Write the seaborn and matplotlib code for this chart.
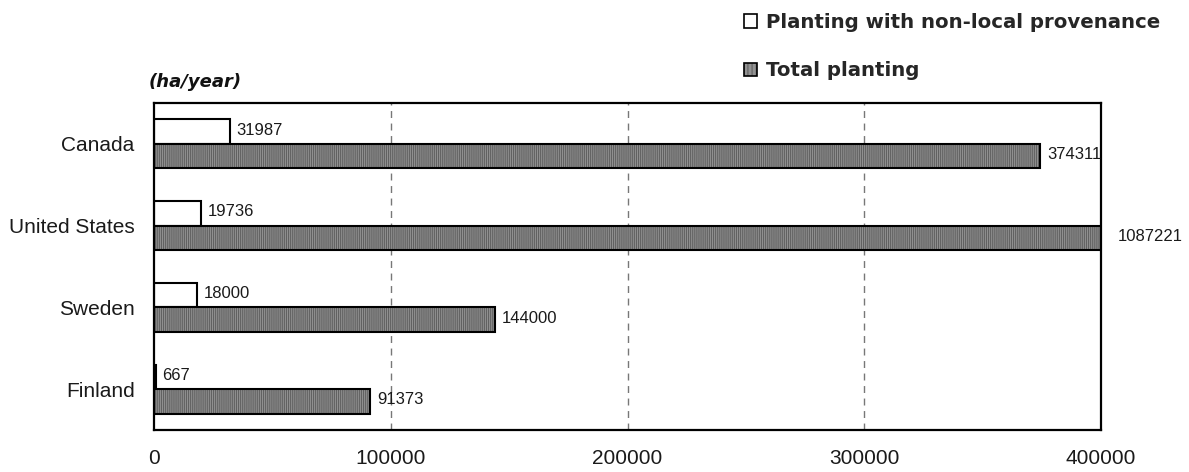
import matplotlib
matplotlib.use("Agg")
import matplotlib.pyplot as plt
import matplotlib.colors as mcolors
import seaborn as sns
import pandas as pd

# Planting area by country (ha/year)
countries = ["Canada", "United States", "Sweden", "Finland"]
non_local = [31987, 19736, 18000, 667]
total = [374311, 1087221, 144000, 91373]
series_names = ["Planting with non-local provenance", "Total planting"]
x_ticks = [0, 100000, 200000, 300000, 400000]

sns.set_theme(style="white")
plt.rcParams["font.family"] = ["Liberation Sans", "DejaVu Sans"]
plt.rcParams["hatch.linewidth"] = 0.8

df = pd.DataFrame({
    "country": countries * 2,
    "series": [series_names[0]] * len(countries) + [series_names[1]] * len(countries),
    "value": non_local + total,
})

fig = plt.figure(figsize=(11.89, 4.72), dpi=100)
ax = fig.add_axes([154 / 1189, 1 - 430 / 472, (1101 - 154) / 1189, (430 - 103) / 472])

sns.barplot(
    data=df, y="country", x="value", hue="series", orient="h",
    hue_order=series_names, order=countries,
    palette=["white", "#929292"], width=0.6, saturation=1,
    edgecolor="black", linewidth=1.5, legend=False, ax=ax,
)

# Striped grey fill for the total-planting bars, outline stays black
stripe_rgba = mcolors.to_rgba("#616161")
for patch in ax.containers[1]:
    patch.set_hatch("||||||||")
    patch._hatch_color = stripe_rgba

ax.set_xlim(x_ticks[0], x_ticks[-1])
ax.set_xticks(x_ticks)
ax.set_xticklabels([str(t) for t in x_ticks], fontsize=15, color="#1a1a1a")
ax.tick_params(axis="x", length=0, pad=14)
ax.tick_params(axis="y", length=0, pad=14, labelsize=15, labelcolor="#1a1a1a")
ax.set_xlabel("")
ax.set_ylabel("")

for t in x_ticks[1:-1]:
    ax.axvline(t, color="#777777", linestyle=(0, (5, 4)), linewidth=1, zorder=0)

for side in ["top", "bottom", "left", "right"]:
    ax.spines[side].set_visible(True)
    ax.spines[side].set_color("black")
    ax.spines[side].set_linewidth(1.6)

# Value labels at the visible end of each bar
xmax = x_ticks[-1]
for container, values in zip(ax.containers, [non_local, total]):
    for patch, v in zip(container, values):
        yc = patch.get_y() + patch.get_height() / 2
        end = min(v, xmax)
        off = 12 if v > xmax else 5
        ax.annotate(str(v), xy=(end, yc), xytext=(off, 1), textcoords="offset points",
                    ha="left", va="center", fontsize=12, color="#1a1a1a",
                    annotation_clip=False)

leg = fig.legend(
    handles=[ax.containers[0], ax.containers[1]], labels=series_names,
    loc="upper left", bbox_to_anchor=(736 / 1189, 1 - 5 / 472),
    frameon=False, ncol=1, handlelength=0.65, handleheight=0.65,
    handletextpad=0.45, labelspacing=1.5, borderaxespad=0,
    prop={"family": "DejaVu Sans", "weight": "bold", "size": 14.2},
)
for h in leg.legend_handles:
    h.set_linewidth(1.2)
leg.legend_handles[1].set_hatch("||||")
leg.legend_handles[1]._hatch_color = stripe_rgba

fig.text(149 / 1189, 1 - 82 / 472, "(ha/year)", fontsize=13, fontweight="bold",
         fontstyle="italic", family="DejaVu Sans", ha="left", va="center",
         color="#111111")

fig.savefig("out.png", dpi=100, facecolor="white")
